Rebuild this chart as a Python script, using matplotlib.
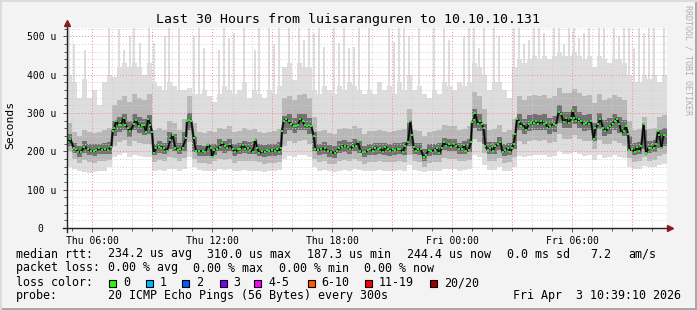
import numpy as np
import matplotlib
matplotlib.use("Agg")
import matplotlib.pyplot as plt
from matplotlib.patches import Rectangle

# median rtt in microseconds, time in hours after Thu 04:45
med_t = [0.00, 0.05, 0.17, 0.33, 0.45, 0.57, 0.70, 0.87, 1.03, 1.20, 1.37, 1.47, 1.62, 1.75, 1.92, 2.05,
         2.22, 2.28, 2.37, 2.45, 2.58, 2.70, 2.83, 2.92, 3.05, 3.17, 3.33, 3.45, 3.58, 3.75, 3.83, 3.95,
         4.05, 4.17, 4.25, 4.33, 4.45, 4.58, 4.72, 4.83, 5.00, 5.17, 5.28, 5.42, 5.55, 5.67, 5.78, 5.95,
         6.00, 6.12, 6.22, 6.33, 6.45, 6.62, 6.78, 6.92, 7.05, 7.20, 7.25, 7.37, 7.50, 7.63, 7.75, 7.88,
         8.00, 8.17, 8.28, 8.42, 8.55, 8.67, 8.80, 8.92, 9.05, 9.17, 9.28, 9.42, 9.50, 9.62, 9.75, 9.88,
         10.00, 10.12, 10.25, 10.38, 10.50, 10.58, 10.70, 10.75, 10.83, 10.95, 11.08, 11.22, 11.33, 11.45,
         11.55, 11.67, 11.78, 11.88, 12.00, 12.12, 12.22, 12.33, 12.42, 12.55, 12.72, 12.88, 13.05, 13.22,
         13.38, 13.50, 13.62, 13.75, 13.88, 14.03, 14.17, 14.30, 14.45, 14.55, 14.67, 14.80, 14.92, 15.05,
         15.17, 15.28, 15.42, 15.55, 15.67, 15.80, 15.92, 16.05, 16.17, 16.28, 16.42, 16.55, 16.67, 16.78,
         16.92, 17.05, 17.17, 17.25, 17.33, 17.45, 17.55, 17.68, 17.83, 17.95, 18.08, 18.22, 18.38, 18.50,
         18.62, 18.75, 18.83, 18.95, 19.08, 19.22, 19.35, 19.47, 19.62, 19.75, 19.87, 19.97, 20.08, 20.20,
         20.25, 20.33, 20.42, 20.53, 20.67, 20.75, 20.83, 20.92, 21.03, 21.17, 21.28, 21.42, 21.55, 21.67,
         21.78, 21.92, 22.05, 22.17, 22.25, 22.33, 22.42, 22.50, 22.62, 22.72, 22.83, 22.95, 23.08, 23.22,
         23.33, 23.45, 23.57, 23.72, 23.83, 23.95, 24.00, 24.17, 24.33, 24.45, 24.58, 24.70, 24.83, 24.95,
         25.08, 25.22, 25.28, 25.37, 25.47, 25.58, 25.70, 25.83, 25.97, 26.08, 26.20, 26.33, 26.42, 26.55,
         26.67, 26.80, 26.92, 27.05, 27.17, 27.28, 27.38, 27.50, 27.62, 27.72, 27.83, 27.95, 28.05, 28.12,
         28.25, 28.38, 28.50, 28.62, 28.72, 28.83, 28.95, 29.08, 29.22, 29.33, 29.45, 29.55, 29.62, 29.72,
         29.83, 29.90]
med_rtt = [230, 225, 232, 210, 206, 198, 199, 212, 206, 201, 201, 203, 208, 203, 206, 203,
           212, 253, 260, 279, 269, 269, 288, 269, 260, 253, 271, 282, 267, 269, 269, 251,
           285, 269, 251, 195, 208, 212, 210, 210, 201, 230, 243, 208, 204, 206, 210, 234,
           278, 282, 278, 234, 201, 201, 201, 199, 217, 208, 186, 204, 206, 212, 221, 215,
           208, 218, 206, 198, 206, 206, 217, 206, 210, 204, 198, 230, 210, 195, 201, 198,
           203, 201, 203, 201, 206, 199, 210, 253, 278, 285, 278, 271, 267, 265,
           269, 285, 278, 269, 265, 269, 265, 241, 206, 203, 206, 208, 201, 199,
           195, 201, 208, 212, 215, 212, 206, 215, 215, 225, 201, 198, 198, 203,
           206, 201, 210, 206, 208, 198, 212, 206, 201, 206, 204, 206, 206, 198,
           215, 225, 278, 243, 212, 201, 206, 206, 186, 190, 204, 201, 204, 208,
           195, 210, 224, 215, 218, 212, 218, 215, 206, 206, 217, 201, 204, 224,
           276, 282, 299, 271, 278, 271, 260, 215, 204, 210, 201, 215, 218, 224,
           198, 204, 210, 199, 208, 220, 245, 285, 276, 267, 271, 256, 271, 274,
           274, 279, 271, 279, 271, 274, 262, 267, 271, 269, 302, 298, 276, 287,
           274, 287, 306, 287, 278, 285, 278, 271, 274, 271, 279, 232, 260, 271,
           285, 262, 253, 260, 267, 271, 279, 285, 271, 249, 253, 265, 245, 204,
           206, 199, 212, 201, 215, 271, 195, 210, 210, 210, 218, 253, 243, 210,
           243, 243]

# smoke: sorted ping spread, one column per 15 minutes
smk_min = [160, 155, 148, 145, 143, 145, 150, 150, 158, 185, 190, 195,
           185, 190, 188, 185, 185, 150, 152, 150, 155, 155, 150, 155,
           185, 160, 152, 150, 148, 150, 155, 152, 155, 150, 150, 152,
           150, 150, 148, 147, 148, 150, 152, 180, 188, 185, 190, 190,
           185, 158, 150, 152, 148, 146, 150, 152, 150, 155, 152, 148,
           150, 150, 152, 150, 148, 150, 152, 150, 165, 152, 150, 145,
           148, 150, 150, 155, 155, 155, 150, 152, 155, 190, 185, 165,
           152, 152, 158, 150, 150, 160, 188, 185, 188, 190, 190, 190,
           186, 188, 200, 192, 192, 198, 192, 188, 190, 178, 190, 182,
           185, 190, 186, 182, 160, 155, 155, 162, 158, 160, 165, 168]
smk_p10 = [200, 180, 170, 178, 172, 170, 175, 176, 178, 215, 225, 230,
           215, 228, 222, 218, 220, 172, 178, 175, 185, 182, 175, 182,
           225, 180, 170, 170, 168, 174, 180, 178, 180, 170, 174, 176,
           174, 175, 172, 168, 170, 170, 172, 215, 228, 222, 228, 230,
           220, 180, 172, 175, 168, 166, 175, 178, 175, 180, 176, 168,
           172, 173, 175, 172, 171, 173, 174, 172, 190, 174, 172, 160,
           170, 172, 172, 182, 180, 180, 174, 175, 178, 232, 225, 195,
           174, 175, 184, 170, 172, 185, 228, 220, 226, 230, 228, 230,
           222, 225, 245, 232, 232, 242, 232, 226, 228, 205, 230, 218,
           220, 228, 222, 215, 182, 172, 175, 185, 176, 178, 188, 192]
smk_p25 = [215, 196, 186, 196, 190, 188, 192, 192, 194, 240, 250, 255,
           238, 255, 248, 242, 245, 190, 196, 192, 205, 200, 192, 200,
           255, 198, 188, 187, 188, 191, 200, 197, 200, 188, 192, 196,
           192, 194, 189, 186, 188, 188, 190, 245, 255, 248, 255, 256,
           246, 200, 191, 194, 186, 184, 195, 198, 194, 200, 195, 185,
           190, 191, 193, 190, 189, 191, 192, 191, 215, 192, 191, 175,
           188, 190, 190, 203, 200, 200, 192, 194, 198, 262, 252, 220,
           192, 193, 204, 187, 190, 205, 255, 245, 252, 256, 255, 256,
           246, 250, 275, 260, 260, 272, 260, 252, 255, 228, 258, 240,
           245, 255, 248, 240, 200, 190, 193, 205, 195, 198, 210, 215]
smk_p75 = [245, 222, 214, 226, 220, 218, 220, 222, 225, 280, 290, 298,
           280, 298, 290, 285, 295, 220, 228, 222, 250, 245, 222, 250,
           300, 240, 216, 215, 220, 220, 232, 228, 232, 218, 222, 228,
           224, 228, 219, 216, 218, 218, 225, 292, 298, 288, 298, 298,
           288, 250, 220, 224, 216, 214, 226, 230, 225, 232, 228, 214,
           220, 221, 223, 222, 219, 221, 222, 224, 275, 222, 222, 205,
           218, 220, 222, 236, 232, 233, 222, 226, 232, 310, 298, 272,
           224, 225, 238, 218, 222, 245, 298, 285, 294, 298, 296, 298,
           288, 292, 320, 303, 302, 318, 302, 294, 297, 275, 300, 282,
           286, 297, 290, 282, 240, 222, 225, 255, 226, 230, 255, 262]
smk_p90 = [275, 250, 240, 255, 250, 248, 250, 255, 262, 320, 335, 345,
           330, 350, 340, 335, 350, 255, 262, 255, 280, 275, 255, 285,
           345, 275, 250, 248, 252, 250, 262, 258, 265, 250, 252, 260,
           255, 258, 250, 248, 250, 252, 258, 340, 345, 335, 348, 350,
           340, 290, 252, 256, 248, 245, 258, 262, 258, 265, 260, 245,
           252, 252, 255, 254, 250, 252, 255, 258, 310, 255, 252, 240,
           250, 252, 255, 268, 265, 265, 255, 258, 265, 355, 345, 310,
           256, 258, 270, 250, 255, 285, 345, 335, 345, 348, 345, 348,
           340, 345, 365, 352, 352, 362, 352, 345, 348, 325, 350, 335,
           338, 348, 342, 335, 280, 255, 258, 290, 258, 262, 290, 295]
smk_max = [400, 380, 340, 390, 340, 360, 320, 380, 400, 394, 420, 430,
           420, 430, 420, 400, 430, 380, 370, 360, 380, 370, 360, 360,
           365, 350, 350, 360, 345, 330, 350, 370, 360, 350, 360, 380,
           340, 360, 350, 340, 360, 350, 370, 420, 430, 386, 430, 420,
           420, 360, 350, 370, 360, 350, 370, 360, 380, 370, 360, 350,
           360, 350, 380, 360, 370, 350, 380, 360, 400, 360, 370, 350,
           340, 360, 350, 380, 370, 360, 380, 370, 380, 430, 420, 400,
           360, 380, 380, 360, 340, 420, 440, 430, 440, 450, 440, 450,
           440, 450, 460, 450, 450, 460, 450, 440, 450, 420, 450, 440,
           430, 440, 440, 430, 400, 380, 380, 400, 390, 400, 380, 400]

# single slow pings that reach far up (hours, us)
spike_t = [0.05, 0.30, 0.85, 2.05, 2.55, 2.80, 3.10, 3.30, 3.60, 4.05, 4.30, 4.85, 5.05, 5.55,
           6.30, 6.55, 6.80, 7.55, 7.80, 8.05, 8.30, 8.80, 9.35, 9.55, 10.05, 10.30, 10.55, 11.05,
           11.55, 11.80, 12.05, 12.30, 12.55, 12.80, 13.30, 13.55, 13.80, 14.05, 14.30, 14.55,
           15.05, 16.05, 16.30, 16.55, 16.80, 17.05, 17.55, 18.30, 18.80, 19.05, 19.80, 20.05,
           20.30, 20.55, 20.80, 21.30, 21.55, 22.30, 22.55, 22.80, 23.05, 23.30, 23.55, 23.80,
           24.30, 24.55, 24.80, 25.05, 25.30, 25.55, 25.80, 26.05, 26.55, 26.80, 27.30, 27.55,
           27.80, 28.05, 28.30, 28.55, 28.80, 29.05, 29.30, 29.80]
spike_top = [530, 480, 465, 530, 520, 465, 500, 530, 483, 530, 483, 500, 530, 530,
             500, 530, 470, 465, 530, 495, 508, 530, 465, 530, 530, 480, 530, 530,
             530, 490, 530, 508, 530, 473, 530, 483, 530, 470, 473, 530,
             530, 530, 485, 530, 530, 500, 530, 530, 530, 490, 500, 530,
             530, 470, 530, 530, 500, 530, 530, 480, 490, 530, 530, 508,
             530, 530, 480, 530, 530, 495, 508, 530, 530, 530, 530, 500,
             530, 530, 470, 530, 508, 530, 530, 530]

xtick_pos = [1.25, 7.25, 13.25, 19.25, 25.25]
xtick_lab = ["Thu 06:00", "Thu 12:00", "Thu 18:00", "Fri 00:00", "Fri 06:00"]
ytick_pos = [0, 100, 200, 300, 400, 500]
ytick_lab = ["0  ", "100 u", "200 u", "300 u", "400 u", "500 u"]

loss_lab = ["0", "1", "2", "3", "4-5", "6-10", "11-19", "20/20"]
loss_col = ["#22ff00", "#00b8ff", "#0059ff", "#7a00ff", "#ff00ff", "#ff5a00", "#ff0000", "#a00000"]

W, H = 697.0, 310.0
mono = "DejaVu Sans Mono"

fig = plt.figure(figsize=(W / 100, H / 100), dpi=100, facecolor="#f3f3f3")
ax = fig.add_axes([67 / W, 82 / H, 600 / W, 200 / H])
ax.set_facecolor("white")
ax.set_xlim(0, 30)
ax.set_ylim(0, 522)

# smoke layers, outside to inside
colx = np.arange(len(smk_max)) * 0.25
ax.bar(spike_t, np.array(spike_top) - 300, bottom=300, width=0.11, align="edge",
       color="#dddddd", linewidth=0, zorder=1)
layers = [(smk_min, smk_max, "#dddddd"), (smk_p10, smk_p90, "#b8b8b8"), (smk_p25, smk_p75, "#727272")]
for lo, hi, c in layers:
    lo = np.array(lo)
    hi = np.array(hi)
    ax.bar(colx, hi - lo, bottom=lo, width=0.25, align="edge", color=c, linewidth=0, zorder=1)

# grid, rrdtool style
for h in np.arange(0.25, 30, 1.0):
    major = abs((h - 1.25) % 3) < 1e-6
    ax.axvline(h, color="#f08a8a" if major else "#cfcfcf", lw=0.7, ls=(0, (1, 2)), zorder=2)
for v in range(20, 522, 20):
    major = v % 100 == 0
    ax.axhline(v, color="#f08a8a" if major else "#cfcfcf", lw=0.7, ls=(0, (1, 2)), zorder=2)

ax.plot(med_t, med_rtt, color="#3c3c3c", lw=1.8, zorder=2.6)
ax.plot(med_t, med_rtt, color="black", lw=0.8, zorder=3)
ax.plot(med_t, med_rtt, "s", color="#22ee22", ms=2.1, mew=0, zorder=4)

for s in ax.spines.values():
    s.set_visible(False)
ax.set_xticks(xtick_pos, xtick_lab, fontsize=7, family=mono)
ax.set_xticks(np.arange(0.25, 30, 1.0), minor=True)
ax.set_yticks(ytick_pos, ytick_lab, fontsize=7, family=mono)
ax.set_yticks(range(20, 522, 20), minor=True)
ax.tick_params(which="both", color="#555555", width=0.7, direction="out")
ax.tick_params(which="major", length=3, pad=3)
ax.tick_params(which="minor", length=2)
ax.tick_params(axis="y", pad=5)

# axes with arrows
ax.plot([-0.2, 30.1], [0, 0], color="#222222", lw=1.0, clip_on=False, zorder=5)
ax.plot([0, 0], [-10, 532], color="#222222", lw=1.0, clip_on=False, zorder=5)
ax.plot(30.15, 0, ">", color="#8b1a1a", ms=4, clip_on=False, zorder=6)
ax.plot(0, 535, "^", color="#8b1a1a", ms=4, clip_on=False, zorder=6)

fig.text(347.5 / W, 1 - 19 / H, "Last 30 Hours from luisaranguren to 10.10.10.131",
         ha="center", va="center", fontsize=9.5, family=mono)
fig.text(10.5 / W, 1 - 125 / H, "Seconds", rotation=90, ha="center", va="center",
         fontsize=8.2, family=mono)
fig.text(688 / W, 1 - 5 / H, "RRDTOOL / TOBI OETIKER", rotation=270, ha="center", va="top",
         fontsize=6, family=mono, color="#b0b0b0")

def put(x, y, s):
    fig.text(x / W, 1 - y / H, s, ha="left", va="center", fontsize=8.4, family=mono)

put(16, 254, "median rtt:")
put(107.6, 254, "234.2 us avg")
put(207, 254, "310.0 us max")
put(306.7, 254, "187.3 us min")
put(406.7, 254, "244.4 us now")
put(506.7, 254, "0.0 ms sd")
put(590, 254, "7.2")
put(628, 254, "am/s")

put(16, 268, "packet loss:")
put(107.6, 268, "0.00 % avg")
put(193.3, 268, "0.00 % max")
put(279, 268, "0.00 % min")
put(364.4, 268, "0.00 % now")

put(16, 282.5, "loss color:")
box_x = [109, 146, 182, 219.6, 254, 307.6, 365, 430]
for bx, lab, c in zip(box_x, loss_lab, loss_col):
    fig.patches.append(Rectangle((bx / W, 1 - 286.5 / H), 7 / W, 7 / H, transform=fig.transFigure,
                                 facecolor=c, edgecolor="black", lw=0.8))
    put(bx + 14, 282.5, lab)

put(16, 296, "probe:")
put(107.6, 296, "20 ICMP Echo Pings (56 Bytes) every 300s")
put(513, 296, "Fri Apr  3 10:39:10 2026")

# outer frame
fig.patches.append(Rectangle((0, 0), 1, 2 / H, transform=fig.transFigure, color="#a8a8a8", lw=0))
fig.patches.append(Rectangle((1 - 2 / W, 0), 2 / W, 1, transform=fig.transFigure, color="#a8a8a8", lw=0))
fig.patches.append(Rectangle((0, 1 - 2 / H), 1, 2 / H, transform=fig.transFigure, color="#dcdcdc", lw=0))
fig.patches.append(Rectangle((0, 0), 2 / W, 1, transform=fig.transFigure, color="#dcdcdc", lw=0))

fig.savefig("out.png", dpi=100, facecolor=fig.get_facecolor())
